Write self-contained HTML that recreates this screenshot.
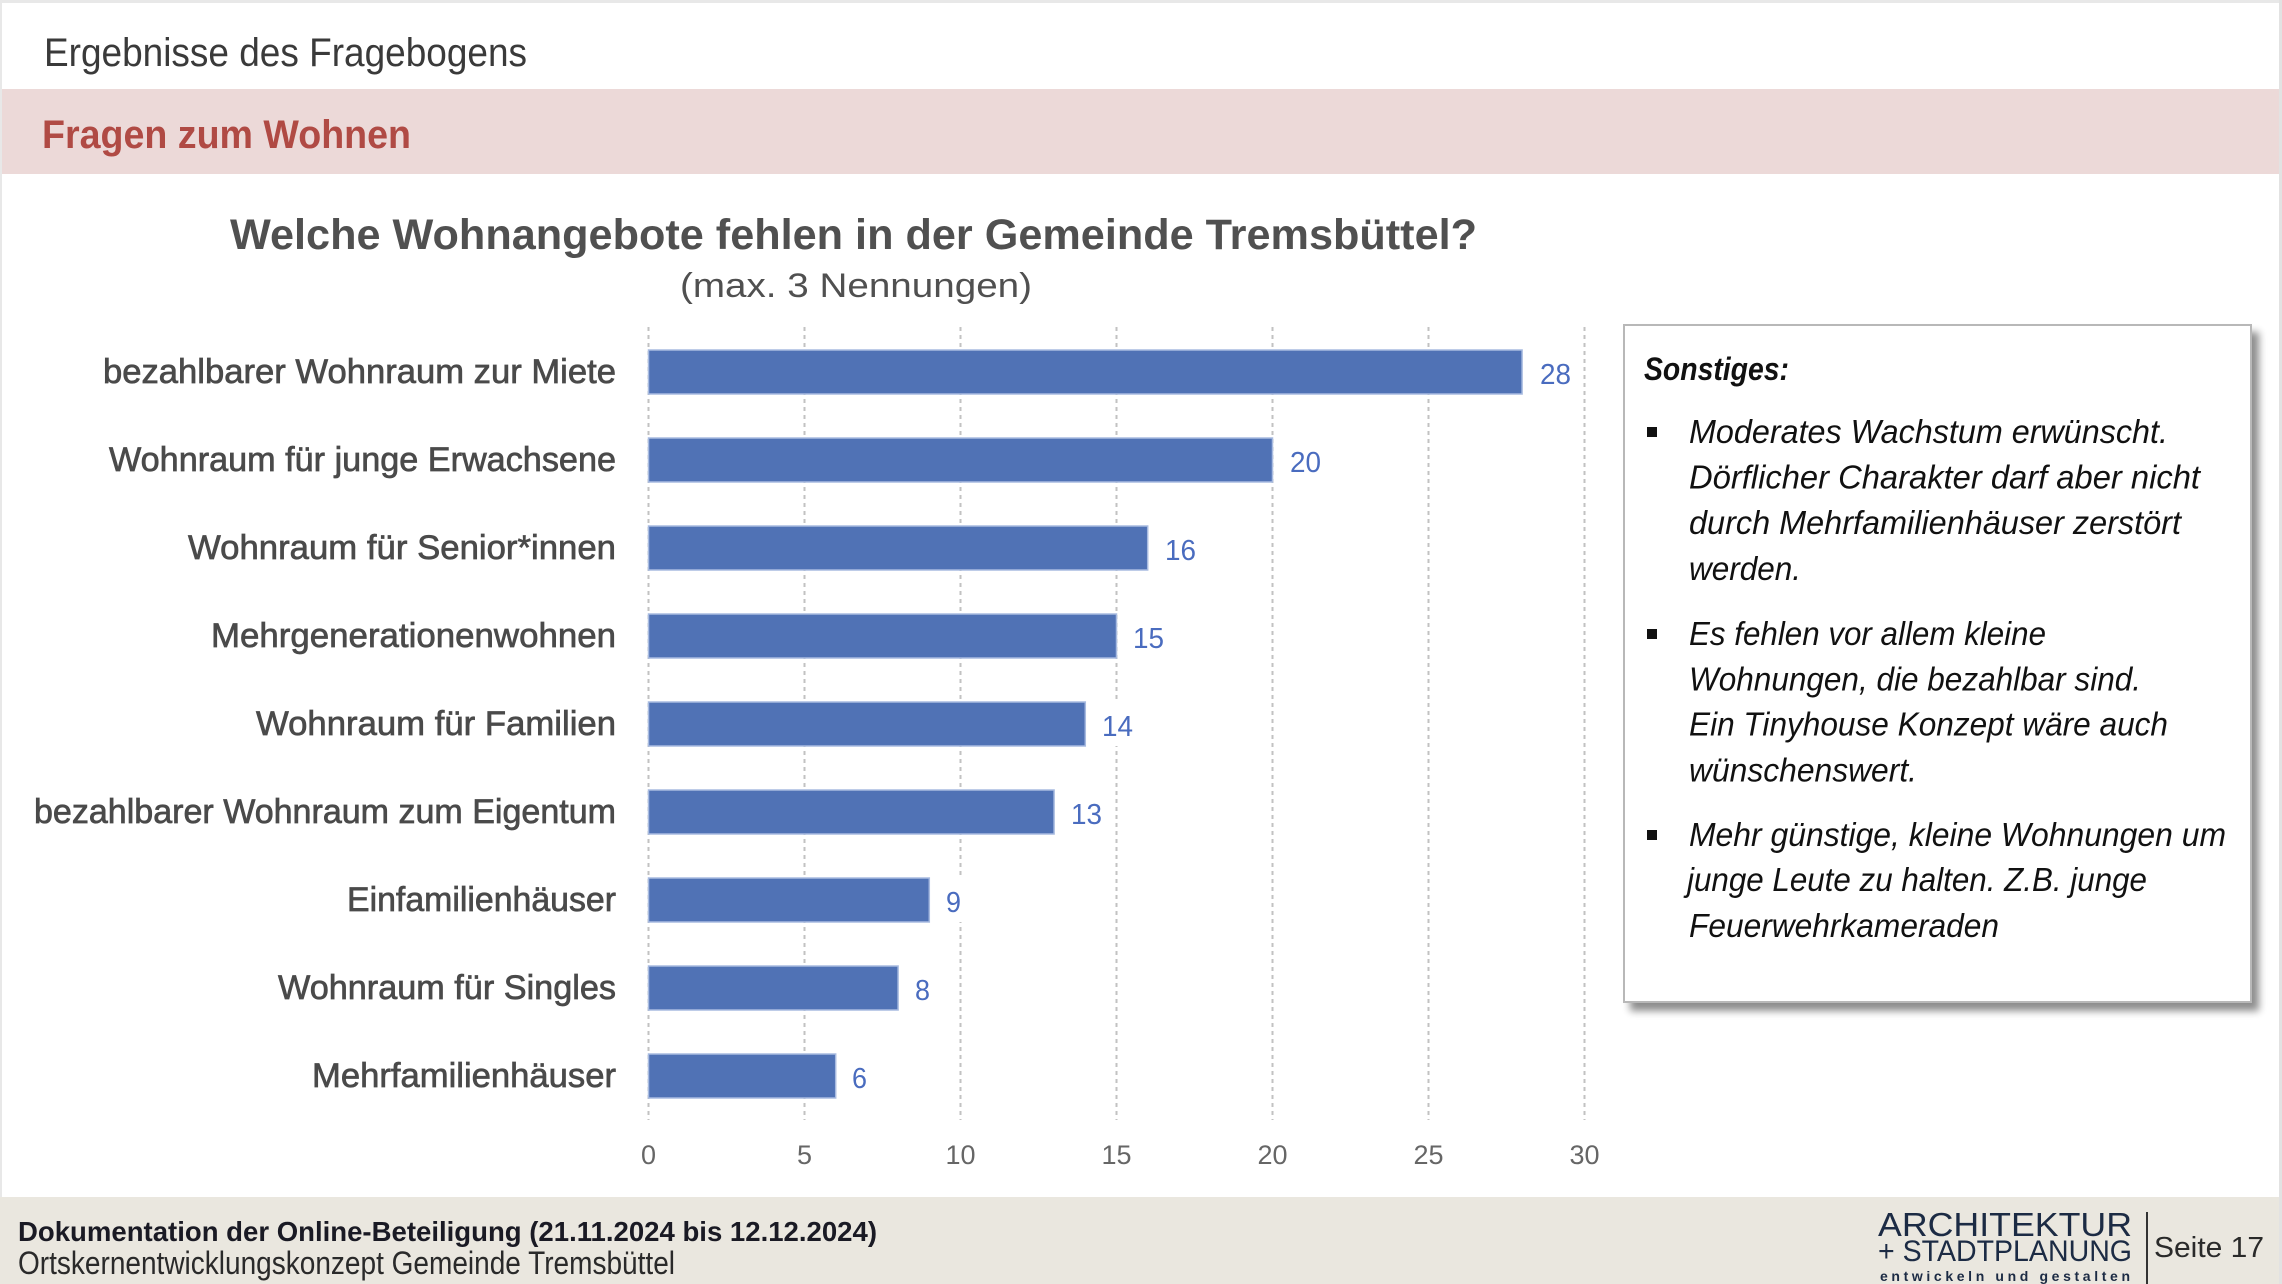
<!DOCTYPE html>
<html>
<head>
<meta charset="utf-8">
<style>
html,body{margin:0;padding:0;background:#fff;}
svg{display:block;}
text{font-family:"Liberation Sans",sans-serif;}
</style>
</head>
<body>
<svg width="2282" height="1284" viewBox="0 0 2282 1284" xmlns="http://www.w3.org/2000/svg">
<defs>
<filter id="sh" x="-5%" y="-5%" width="115%" height="115%">
<feGaussianBlur in="SourceAlpha" stdDeviation="4"/>
<feOffset dx="7" dy="8" result="o"/>
<feComponentTransfer><feFuncA type="linear" slope="0.45"/></feComponentTransfer>
<feMerge><feMergeNode/><feMergeNode in="SourceGraphic"/></feMerge>
</filter>
</defs>
<rect x="0" y="0" width="2282" height="1284" fill="#fff"/>
<!-- page borders -->
<rect x="0" y="0" width="2282" height="3" fill="#e8e8e8"/>
<rect x="0" y="0" width="2" height="1284" fill="#e8e8e8"/>
<rect x="2279" y="0" width="3" height="1284" fill="#e2e2e2"/>

<!-- header -->
<text x="44" y="66" font-size="40" fill="#3a3a3a" textLength="483" lengthAdjust="spacingAndGlyphs">Ergebnisse des Fragebogens</text>
<rect x="2" y="89" width="2277" height="85" fill="#ecd9d8"/>
<text x="42" y="148" font-size="40" font-weight="bold" fill="#b04a44" textLength="369" lengthAdjust="spacingAndGlyphs">Fragen zum Wohnen</text>

<!-- title -->
<text x="230" y="249" font-size="43" font-weight="bold" fill="#505050" textLength="1247" lengthAdjust="spacingAndGlyphs">Welche Wohnangebote fehlen in der Gemeinde Tremsbüttel?</text>
<text x="680" y="297" font-size="34" fill="#505050" textLength="352" lengthAdjust="spacingAndGlyphs">(max. 3 Nennungen)</text>

<!-- grid -->
<g stroke="#c2c2c2" stroke-width="2" stroke-dasharray="4 4">
<line x1="648.5" y1="327" x2="648.5" y2="1120"/>
<line x1="804.5" y1="327" x2="804.5" y2="1120"/>
<line x1="960.5" y1="327" x2="960.5" y2="1120"/>
<line x1="1116.5" y1="327" x2="1116.5" y2="1120"/>
<line x1="1272.5" y1="327" x2="1272.5" y2="1120"/>
<line x1="1428.5" y1="327" x2="1428.5" y2="1120"/>
<line x1="1584.5" y1="327" x2="1584.5" y2="1120"/>
</g>

<!-- label backgrounds (break gridlines) -->
<g fill="#fff">
<rect x="1536" y="350" width="40" height="44"/>
<rect x="1286" y="438" width="40" height="44"/>
<rect x="1161" y="526" width="40" height="44"/>
<rect x="1129" y="614" width="40" height="44"/>
<rect x="1098" y="702" width="40" height="44"/>
<rect x="1067" y="790" width="40" height="44"/>
<rect x="942" y="878" width="23" height="44"/>
<rect x="911" y="966" width="23" height="44"/>
<rect x="848" y="1054" width="23" height="44"/>
</g>

<!-- bars -->
<g fill="#5072b5" stroke="#a8bbe0" stroke-width="1.5">
<rect x="648.5" y="350" width="873.6" height="44"/>
<rect x="648.5" y="438" width="624" height="44"/>
<rect x="648.5" y="526" width="499.2" height="44"/>
<rect x="648.5" y="614" width="468" height="44"/>
<rect x="648.5" y="702" width="436.8" height="44"/>
<rect x="648.5" y="790" width="405.6" height="44"/>
<rect x="648.5" y="878" width="280.8" height="44"/>
<rect x="648.5" y="966" width="249.6" height="44"/>
<rect x="648.5" y="1054" width="187.2" height="44"/>
</g>

<!-- category labels -->
<g font-size="34" fill="#4a4a4a" stroke="#4a4a4a" stroke-width="0.7">
<text x="103" y="383" textLength="513" lengthAdjust="spacingAndGlyphs">bezahlbarer Wohnraum zur Miete</text>
<text x="109" y="471" textLength="507" lengthAdjust="spacingAndGlyphs">Wohnraum für junge Erwachsene</text>
<text x="188" y="559" textLength="428" lengthAdjust="spacingAndGlyphs">Wohnraum für Senior*innen</text>
<text x="211" y="647" textLength="405" lengthAdjust="spacingAndGlyphs">Mehrgenerationenwohnen</text>
<text x="256" y="735" textLength="360" lengthAdjust="spacingAndGlyphs">Wohnraum für Familien</text>
<text x="34" y="823" textLength="582" lengthAdjust="spacingAndGlyphs">bezahlbarer Wohnraum zum Eigentum</text>
<text x="347" y="911" textLength="269" lengthAdjust="spacingAndGlyphs">Einfamilienhäuser</text>
<text x="278" y="999" textLength="338" lengthAdjust="spacingAndGlyphs">Wohnraum für Singles</text>
<text x="312" y="1087" textLength="304" lengthAdjust="spacingAndGlyphs">Mehrfamilienhäuser</text>
</g>

<!-- data labels -->
<g font-size="29" fill="#4a6cbf">
<text x="1540" y="384" textLength="31" lengthAdjust="spacingAndGlyphs">28</text>
<text x="1290" y="472" textLength="31" lengthAdjust="spacingAndGlyphs">20</text>
<text x="1165" y="560" textLength="31" lengthAdjust="spacingAndGlyphs">16</text>
<text x="1133" y="648" textLength="31" lengthAdjust="spacingAndGlyphs">15</text>
<text x="1102" y="736" textLength="31" lengthAdjust="spacingAndGlyphs">14</text>
<text x="1071" y="824" textLength="31" lengthAdjust="spacingAndGlyphs">13</text>
<text x="946" y="912" textLength="15" lengthAdjust="spacingAndGlyphs">9</text>
<text x="915" y="1000" textLength="15" lengthAdjust="spacingAndGlyphs">8</text>
<text x="852" y="1088" textLength="15" lengthAdjust="spacingAndGlyphs">6</text>
</g>

<!-- tick labels -->
<g font-size="27" fill="#666" text-anchor="middle">
<text x="648.5" y="1164">0</text>
<text x="804.5" y="1164">5</text>
<text x="960.5" y="1164">10</text>
<text x="1116.5" y="1164">15</text>
<text x="1272.5" y="1164">20</text>
<text x="1428.5" y="1164">25</text>
<text x="1584.5" y="1164">30</text>
</g>

<!-- right box -->
<rect x="1624" y="325" width="627" height="677" fill="#fff" stroke="#b8b8b8" stroke-width="2" filter="url(#sh)"/>
<text x="1644" y="380" font-size="32" font-weight="bold" font-style="italic" fill="#111" textLength="145" lengthAdjust="spacingAndGlyphs">Sonstiges:</text>
<g fill="#111">
<rect x="1647" y="427" width="10" height="10"/>
<rect x="1647" y="629" width="10" height="10"/>
<rect x="1647" y="830" width="10" height="10"/>
</g>
<g font-size="33" font-style="italic" fill="#111">
<text x="1689" y="443" textLength="479" lengthAdjust="spacingAndGlyphs">Moderates Wachstum erwünscht.</text>
<text x="1689" y="488.5" textLength="511" lengthAdjust="spacingAndGlyphs">Dörflicher Charakter darf aber nicht</text>
<text x="1689" y="534" textLength="492" lengthAdjust="spacingAndGlyphs">durch Mehrfamilienhäuser zerstört</text>
<text x="1689" y="580" textLength="112" lengthAdjust="spacingAndGlyphs">werden.</text>
<text x="1689" y="645" textLength="357" lengthAdjust="spacingAndGlyphs">Es fehlen vor allem kleine</text>
<text x="1689" y="690.5" textLength="452" lengthAdjust="spacingAndGlyphs">Wohnungen, die bezahlbar sind.</text>
<text x="1689" y="735.5" textLength="479" lengthAdjust="spacingAndGlyphs">Ein Tinyhouse Konzept wäre auch</text>
<text x="1689" y="781.5" textLength="228" lengthAdjust="spacingAndGlyphs">wünschenswert.</text>
<text x="1689" y="846" textLength="537" lengthAdjust="spacingAndGlyphs">Mehr günstige, kleine Wohnungen um</text>
<text x="1687" y="891" textLength="460" lengthAdjust="spacingAndGlyphs">junge Leute zu halten. Z.B. junge</text>
<text x="1689" y="937" textLength="310" lengthAdjust="spacingAndGlyphs">Feuerwehrkameraden</text>
</g>

<!-- footer -->
<rect x="0" y="1197" width="2279" height="87" fill="#eae7df"/>
<text x="18" y="1241" font-size="28" font-weight="bold" fill="#1a1a24" textLength="859" lengthAdjust="spacingAndGlyphs">Dokumentation der Online-Beteiligung (21.11.2024 bis 12.12.2024)</text>
<text x="18" y="1274" font-size="32" fill="#2a2a2a" textLength="657" lengthAdjust="spacingAndGlyphs">Ortskernentwicklungskonzept Gemeinde Tremsbüttel</text>

<text x="1878" y="1236" font-size="33" fill="#1c2b44" textLength="254" lengthAdjust="spacingAndGlyphs">ARCHITEKTUR</text>
<text x="1878" y="1261" font-size="30" fill="#1c2b44" textLength="254" lengthAdjust="spacingAndGlyphs">+ STADTPLANUNG</text>
<text x="1880" y="1281" font-size="14" font-weight="bold" fill="#1c2b44" textLength="250" lengthAdjust="spacing">entwickeln und gestalten</text>
<line x1="2147" y1="1212" x2="2147" y2="1284" stroke="#333" stroke-width="2"/>
<text x="2154" y="1257" font-size="29" fill="#2a2a2a" textLength="110" lengthAdjust="spacingAndGlyphs">Seite 17</text>
</svg>
</body>
</html>
